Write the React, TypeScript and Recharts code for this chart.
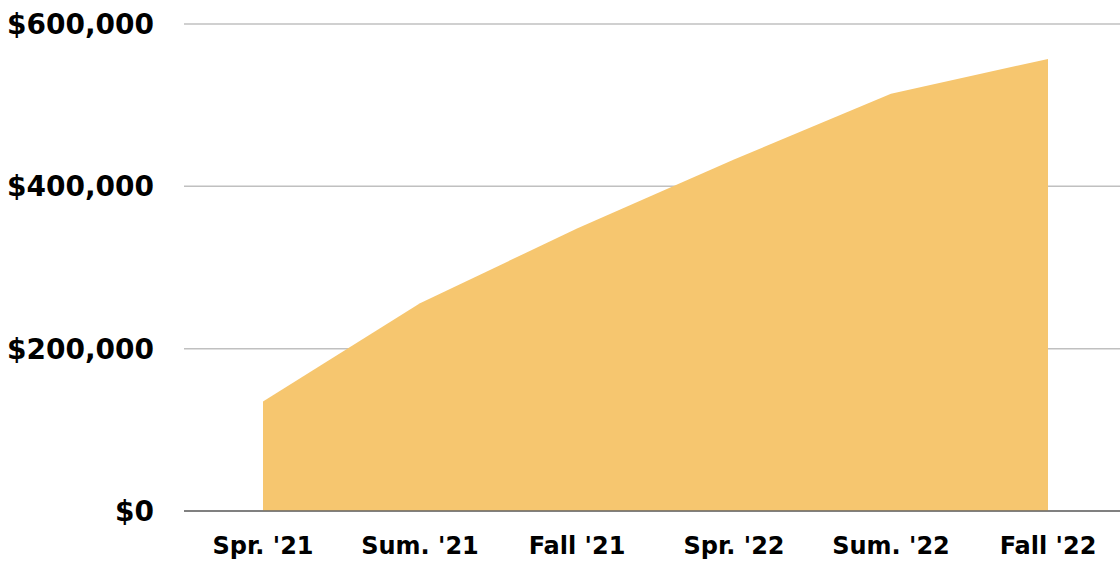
import React from "react";
import { AreaChart, Area, XAxis, YAxis, CartesianGrid } from "recharts";

const categories = ["Spr. '21", "Sum. '21", "Fall '21", "Spr. '22", "Sum. '22", "Fall '22"];
const values = [135000, 256000, 348000, 433000, 514000, 557000];
const yTicks = [0, 200000, 400000, 600000];

const data = categories.map((c, i) => ({ name: c, value: values[i] }));

const fmt = (v: number) => "$" + v.toLocaleString("en-US");

export default function App() {
  return (
    <div style={{ position: "absolute", left: 0, top: 0, width: 1120, height: 565, background: "#fff" }}>
      <AreaChart width={1120} height={565} data={data} margin={{ top: 24, right: 0, left: 0, bottom: 0 }}>
        <CartesianGrid vertical={false} stroke="#c0c0c0" strokeWidth={1.5} />
        <XAxis
          dataKey="name"
          height={54}
          padding={{ left: 79, right: 72 }}
          axisLine={{ stroke: "#666666", strokeWidth: 1.5 }}
          tickLine={false}
          tickMargin={20}
          tick={{ fill: "#000", fontSize: 24, fontWeight: 700, fontFamily: "DejaVu Sans" }}
          interval={0}
        />
        <YAxis
          width={184}
          domain={[0, 600000]}
          ticks={yTicks}
          tickFormatter={fmt}
          axisLine={false}
          tickLine={false}
          tickMargin={24}
          tick={{ fill: "#000", fontSize: 28, fontWeight: 700, fontFamily: "DejaVu Sans" }}
        />
        <Area
          type="linear"
          dataKey="value"
          fill="#F6C66F"
          fillOpacity={1}
          stroke="none"
          isAnimationActive={false}
        />
      </AreaChart>
    </div>
  );
}
